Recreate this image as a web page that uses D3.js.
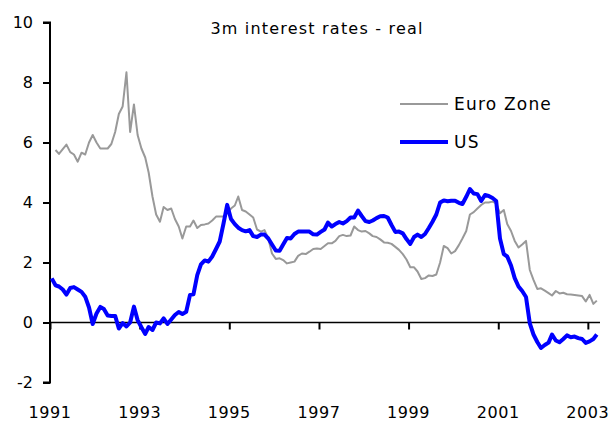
<!DOCTYPE html>
<html>
<head>
<meta charset="utf-8">
<script src="https://cdn.jsdelivr.net/npm/d3@7"></script>
<style>
  body { margin: 0; background: #fff; }
  svg { display: block; }
  text { font-family: "DejaVu Sans", Verdana, sans-serif; fill: #000; }
</style>
</head>
<body>
<svg id="chart" width="615" height="423"></svg>
<script>
// ---- data (monthly, Jan 1991 .. Mar 2003) ----
const title = "3m interest rates - real";
const seriesNames = ["Euro Zone", "US"];
const startYear = 1991, startMonth = 0;
const euroZone = [
  null, 5.75, 5.62, 5.78, 5.93, 5.68, 5.6, 5.36, 5.66, 5.6, 6.0, 6.25,
  6.0, 5.8, 5.8, 5.8, 5.95, 6.35, 6.95, 7.2, 8.34, 6.35, 7.27, 6.25,
  5.8, 5.5, 5.0, 4.2, 3.6, 3.36, 3.85, 3.75, 3.8, 3.45, 3.2, 2.8,
  3.2, 3.2, 3.4, 3.15, 3.25, 3.27, 3.3, 3.4, 3.53, 3.53, 3.53, 3.65,
  3.8, 3.9, 4.2, 3.75, 3.7, 3.6, 3.5, 3.1, 3.03, 3.08, 2.8, 2.3,
  2.12, 2.14, 2.08, 1.97, 2.0, 2.03, 2.22, 2.3, 2.28, 2.36, 2.45, 2.47,
  2.45, 2.55, 2.64, 2.64, 2.72, 2.88, 2.92, 2.88, 2.9, 3.2, 3.08, 3.03,
  3.05, 2.97, 2.88, 2.85, 2.77, 2.67, 2.66, 2.62, 2.52, 2.42, 2.28, 2.1,
  1.84, 1.84, 1.7, 1.45, 1.48, 1.57, 1.55, 1.6, 2.0, 2.55, 2.48, 2.3,
  2.38, 2.58, 2.8, 3.05, 3.6, 3.68, 3.8, 3.92, 4.0, 4.0, 4.03, 3.97,
  3.64, 3.75, 3.28, 3.05, 2.72, 2.5, 2.6, 2.72, 1.75, 1.42, 1.12, 1.14,
  1.06, 0.98, 0.9, 1.05, 0.97, 0.99, 0.94, 0.93, 0.92, 0.9, 0.88, 0.7,
  0.92, 0.62, 0.73
];
const us = [
  1.47, 1.24, 1.2, 1.1, 0.93, 1.15, 1.18, 1.1, 1.02, 0.86, 0.5, -0.05,
  0.3, 0.52, 0.45, 0.23, 0.22, 0.22, -0.2, -0.02, -0.13, 0.0, 0.53, 0.08,
  -0.16, -0.38, -0.15, -0.25, 0.0, -0.03, 0.14, -0.05, 0.1, 0.25, 0.35, 0.28,
  0.36, 0.92, 0.94, 1.58, 1.94, 2.07, 2.03, 2.2, 2.45, 2.7, 3.3, 3.92,
  3.45, 3.28, 3.16, 3.08, 3.04, 3.08, 2.88, 2.85, 2.93, 2.93, 2.8, 2.6,
  2.4, 2.39, 2.6, 2.82, 2.8, 2.95, 3.03, 3.03, 3.03, 3.03, 2.94, 2.93,
  3.02, 3.1, 3.33, 3.2, 3.28, 3.35, 3.3, 3.38, 3.5, 3.5, 3.73, 3.55,
  3.38, 3.35, 3.4, 3.48, 3.54, 3.55, 3.5, 3.25, 3.02, 3.03, 2.97, 2.78,
  2.62, 2.85, 2.93, 2.85, 2.95, 3.15, 3.36, 3.6, 4.0, 4.07, 4.04, 4.06,
  4.06, 3.99, 3.95, 4.19, 4.45, 4.3, 4.28, 4.05, 4.25, 4.22, 4.15, 4.05,
  2.8, 2.28, 2.2, 1.9, 1.48, 1.2, 1.05, 0.85, -0.03, -0.4, -0.65, -0.85,
  -0.75, -0.67, -0.4, -0.6, -0.66, -0.55, -0.43, -0.49, -0.47, -0.52, -0.55, -0.68,
  -0.63, -0.55, -0.4
];
const yTicks = [-2, 0, 2, 4, 6, 8, 10];
const xTickYears = [1991, 1993, 1995, 1997, 1999, 2001, 2003];

// ---- layout ----
const svg = d3.select("#chart");
const plotLeft = 50, plotRight = 600, plotTop = 22.5, plotBottom = 382.5;

const x = d3.scaleTime()
  .domain([new Date(1991, 0, 1), new Date(2003, 3, 10)])
  .range([plotLeft, plotRight]);
const y = d3.scaleLinear().domain([-2, 10]).range([plotBottom, plotTop]);

const dateOf = i => new Date(startYear, startMonth + i, 15);

// y axis
const yAxis = d3.axisLeft(y).tickValues(yTicks).tickSize(7).tickPadding(10)
  .tickFormat(d => d);
const gy = svg.append("g").attr("transform", `translate(${plotLeft},0)`).call(yAxis);
gy.select(".domain").attr("stroke", "#000").attr("stroke-width", 2)
  .attr("d", `M-7,${y(10)}H0V${y(-2)}H-7`);
gy.selectAll(".tick line").attr("stroke", "#000").attr("stroke-width", 2);
gy.selectAll(".tick text").attr("font-size", 16)
  .attr("font-family", '"DejaVu Sans", Verdana, sans-serif').attr("fill", "#000");

// x axis along zero line
const xAxis = d3.axisBottom(x)
  .tickValues(xTickYears.map(yr => new Date(yr, 0, 1)))
  .tickSize(7).tickFormat("");
const gx = svg.append("g").attr("transform", `translate(0,${y(0)})`).call(xAxis);
gx.select(".domain").attr("stroke", "#000").attr("stroke-width", 1.6)
  .attr("d", `M${plotLeft},0H${plotRight}`);
gx.selectAll(".tick line").attr("stroke", "#000").attr("stroke-width", 2);

// year labels at bottom
svg.append("g").selectAll("text").data(xTickYears).join("text")
  .attr("x", d => x(new Date(d, 0, 1)))
  .attr("y", 418)
  .attr("text-anchor", "middle")
  .attr("font-size", 16)
  .attr("letter-spacing", 0.6)
  .text(d => d);

// lines
const line = d3.line()
  .defined(d => d.v !== null)
  .x(d => x(d.date)).y(d => y(d.v));

const euroData = euroZone.map((v, i) => ({ date: dateOf(i), v }));
const usData = us.map((v, i) => ({ date: dateOf(i), v }));

svg.append("path").datum(euroData)
  .attr("fill", "none").attr("stroke", "#999999").attr("stroke-width", 2)
  .attr("stroke-linejoin", "round").attr("d", line);
svg.append("path").datum(usData)
  .attr("fill", "none").attr("stroke", "#0000ff").attr("stroke-width", 4)
  .attr("stroke-linejoin", "round").attr("d", line);

// title
svg.append("text").attr("x", 317).attr("y", 34).attr("text-anchor", "middle")
  .attr("font-size", 16).attr("letter-spacing", 1.2).text(title);

// legend
const legend = [
  { name: seriesNames[0], color: "#999999", w: 2, y: 104 },
  { name: seriesNames[1], color: "#0000ff", w: 4, y: 142 }
];
const lg = svg.append("g");
lg.selectAll("line").data(legend).join("line")
  .attr("x1", 400).attr("x2", 448)
  .attr("y1", d => d.y).attr("y2", d => d.y)
  .attr("stroke", d => d.color).attr("stroke-width", d => d.w);
lg.selectAll("text").data(legend).join("text")
  .attr("x", 454).attr("y", d => d.y + 6)
  .attr("font-size", 17).attr("letter-spacing", 1.2)
  .text(d => d.name);
</script>
</body>
</html>
